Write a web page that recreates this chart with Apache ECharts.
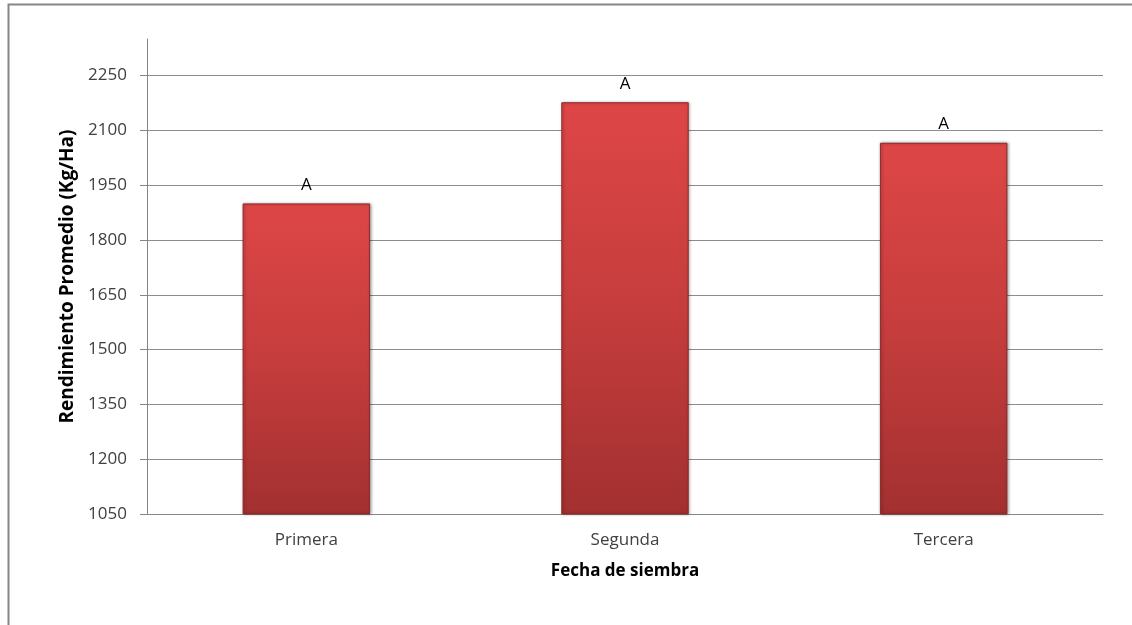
<!DOCTYPE html>
<html>
<head>
<meta charset="utf-8">
<script src="https://cdn.jsdelivr.net/npm/echarts@6/dist/echarts.min.js"></script>
<style>html,body{margin:0;padding:0;background:#fff}#c{width:1132px;height:625px}</style>
</head>
<body>
<div id="c"></div>
<script>
const categories = ['Primera', 'Segunda', 'Tercera'];
const rendimiento = [1900, 2177, 2066];
const letras = ['A', 'A', 'A'];
const yTicks = [1050, 1200, 1350, 1500, 1650, 1800, 1950, 2100, 2250];

const chart = echarts.init(document.getElementById('c'));
const font = '"Open Sans", "Noto Sans", sans-serif';
chart.setOption({
  animation: false,
  backgroundColor: '#fff',
  graphic: [{
    type: 'polyline',
    shape: { points: [[8.5, 700], [8.5, 4.5], [1200, 4.5]] },
    style: { stroke: '#868686', lineWidth: 2, fill: null }
  }],
  grid: { left: 147, right: 29, top: 39, bottom: 111 },
  xAxis: {
    type: 'category',
    data: categories,
    axisLine: { lineStyle: { color: '#868686', width: 1 } },
    axisTick: { show: false },
    axisLabel: { color: '#404040', fontFamily: font, fontSize: 17, margin: 18 },
    name: 'Fecha de siembra',
    nameLocation: 'middle',
    nameGap: 49,
    nameTextStyle: { color: '#000', fontFamily: font, fontSize: 17, fontWeight: 'bold' }
  },
  yAxis: {
    type: 'value',
    min: 1050,
    max: 2350,
    interval: 150,
    axisLine: { show: true, lineStyle: { color: '#868686' } },
    axisTick: { show: true, length: 7, lineStyle: { color: '#868686' }, customValues: yTicks },
    axisLabel: { color: '#404040', fontFamily: font, fontSize: 17, margin: 20, customValues: yTicks, formatter: v => String(v) },
    splitLine: { show: true, lineStyle: { color: '#8c8c8c', width: 1 } },
    name: 'Rendimiento Promedio (Kg/Ha)',
    nameLocation: 'middle',
    nameGap: 65,
    nameTextStyle: { color: '#000', fontFamily: font, fontSize: 19, fontWeight: 'bold' }
  },
  series: [{
    type: 'bar',
    data: rendimiento,
    barWidth: '40%',
    itemStyle: {
      color: new echarts.graphic.LinearGradient(0, 0, 0, 1, [
        { offset: 0, color: '#de4646' },
        { offset: 0.5, color: '#c63d3d' },
        { offset: 1, color: '#a33030' }
      ]),
      borderColor: '#8f2a2a',
      borderWidth: 1,
      shadowColor: 'rgba(0,0,0,0.35)',
      shadowBlur: 3,
      shadowOffsetX: 1,
      shadowOffsetY: 0
    },
    label: {
      show: true,
      position: 'top',
      distance: 10,
      formatter: p => letras[p.dataIndex],
      color: '#000',
      fontFamily: font,
      fontSize: 17
    }
  }]
});
</script>
</body>
</html>
